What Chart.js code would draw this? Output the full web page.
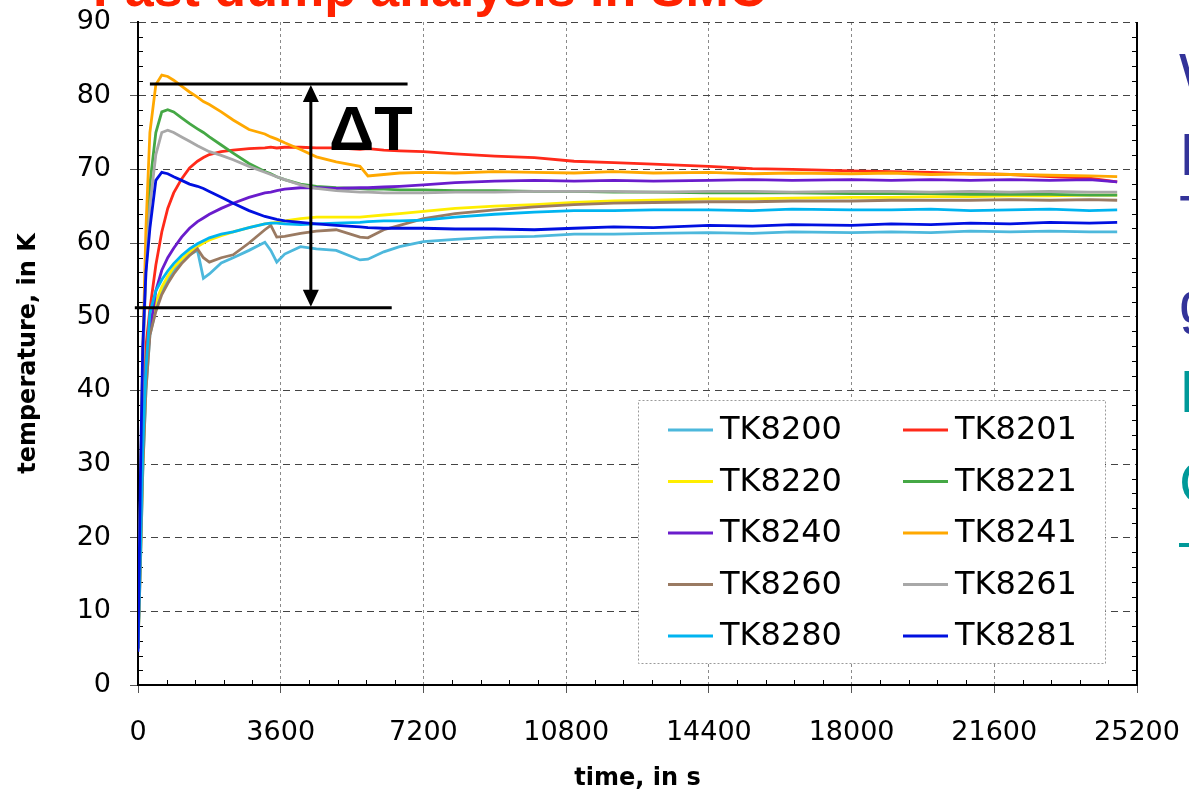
<!DOCTYPE html>
<html>
<head>
<meta charset="utf-8">
<script src="https://cdn.jsdelivr.net/npm/chart.js@4.4.1/dist/chart.umd.min.js"></script>
<style>
  html, body { margin: 0; padding: 0; background: #fff; overflow: hidden; }
  #wrap { position: relative; width: 1189px; height: 795px; overflow: hidden; }
  #myChart { position: absolute; left: 0; top: 0; }
  #slideTitle { position: absolute; left: 93px; top: -42px; line-height: 52px; font: bold 52px "Liberation Sans", Arial, sans-serif; color: #ff2200; white-space: nowrap; }
  .side { position: absolute; left: 1179px; line-height: 60px; font: 60px "Liberation Sans", Arial, sans-serif; white-space: nowrap; }
  .blue { color: #333399; }
  .teal { color: #009999; }
</style>
</head>
<body>
<div id="wrap">
  <canvas id="myChart" width="1189" height="795"></canvas>
  <div id="slideTitle">Fast dump analysis in SMC</div>
  <div class="side blue" style="top:40px">W</div>
  <div class="side blue" style="top:120px">I</div>
  <div class="side blue" style="top:182px">T</div>
  <div class="side blue" style="top:268px">g</div>
  <div class="side teal" style="top:357px">I</div>
  <div class="side teal" style="top:448px">C</div>
  <div class="side teal" style="top:505px">–</div>
</div>
<script>
  // sample times, in s
  const times = [0, 60, 120, 200, 300, 450, 600, 750, 900, 1100, 1300, 1500, 1650, 1800, 2100, 2400, 2800, 3200, 3350, 3500, 3700, 4100, 4500, 5000, 5600, 5800, 6200, 6600, 7200, 8000, 9000, 10000, 11000, 12000, 13000, 14400, 15500, 16500, 18000, 19000, 20000, 21000, 22000, 23000, 24000, 24700];

  // temperatures, in K
  const tk8200 = [5, 16, 29, 40, 47.5, 51, 53.5, 55, 56.3, 57.5, 58.4, 59.0, 55.2, 55.8, 57.3, 58.0, 59.0, 60.1, 59.0, 57.4, 58.5, 59.5, 59.2, 59.0, 57.7, 57.8, 58.8, 59.5, 60.2, 60.5, 60.8, 60.9, 61.2, 61.2, 61.3, 61.4, 61.3, 61.5, 61.4, 61.5, 61.4, 61.6, 61.5, 61.6, 61.5, 61.5];
  const tk8201 = [5, 22, 38, 46, 51, 57, 61.5, 64.7, 66.8, 68.7, 70.2, 71.1, 71.6, 72.0, 72.4, 72.6, 72.8, 72.9, 73.0, 72.9, 73.0, 73.0, 72.9, 72.9, 72.7, 72.8, 72.6, 72.5, 72.4, 72.1, 71.8, 71.6, 71.1, 70.9, 70.7, 70.4, 70.1, 70.0, 69.8, 69.7, 69.6, 69.4, 69.3, 69.0, 68.8, 68.3];
  const tk8220 = [5, 17, 30, 41, 48.5, 52, 54, 55.5, 56.7, 57.8, 58.8, 59.5, 60.0, 60.4, 61.0, 61.5, 62.1, 62.6, 62.7, 62.8, 63.0, 63.3, 63.5, 63.5, 63.5, 63.6, 63.8, 64.0, 64.3, 64.7, 65.0, 65.2, 65.5, 65.7, 65.8, 66.0, 66.0, 66.1, 66.2, 66.2, 66.3, 66.3, 66.4, 66.4, 66.5, 66.5];
  const tk8221 = [5, 25, 44, 58, 68, 75, 77.8, 78.1, 77.8, 77.0, 76.2, 75.5, 75.0, 74.4, 73.3, 72.2, 70.8, 69.7, 69.4, 69.0, 68.6, 68.0, 67.7, 67.5, 67.4, 67.3, 67.3, 67.2, 67.2, 67.1, 67.1, 67.0, 67.0, 66.9, 66.9, 66.8, 66.8, 66.8, 66.7, 66.7, 66.7, 66.6, 66.6, 66.6, 66.5, 66.5];
  const tk8240 = [5, 20, 34, 42, 48, 53.5, 56.3, 58.0, 59.3, 60.8, 62.0, 62.9, 63.4, 63.9, 64.7, 65.4, 66.2, 66.8, 66.9, 67.1, 67.3, 67.5, 67.5, 67.4, 67.5, 67.5, 67.6, 67.7, 67.9, 68.2, 68.4, 68.5, 68.4, 68.5, 68.4, 68.5, 68.6, 68.5, 68.6, 68.5, 68.6, 68.5, 68.6, 68.5, 68.6, 68.3];
  const tk8241 = [5, 25, 45, 62, 75, 81.5, 82.8, 82.6, 82.1, 81.3, 80.5, 79.8, 79.2, 78.8, 77.8, 76.7, 75.4, 74.8, 74.4, 74.1, 73.6, 72.7, 71.7, 71.0, 70.4, 69.1, 69.3, 69.5, 69.6, 69.5, 69.7, 69.6, 69.5, 69.7, 69.5, 69.6, 69.4, 69.5, 69.4, 69.5, 69.3, 69.4, 69.3, 69.2, 69.1, 69.0];
  const tk8260 = [5, 16, 29, 40, 47.5, 50.7, 53, 54.5, 55.8, 57.2, 58.3, 59.2, 58.0, 57.4, 58.0, 58.4, 60.0, 61.8, 62.4, 60.8, 60.9, 61.3, 61.6, 61.8, 60.8, 60.7, 61.8, 62.4, 63.3, 64.0, 64.5, 64.9, 65.2, 65.4, 65.5, 65.6, 65.6, 65.7, 65.7, 65.8, 65.8, 65.8, 65.9, 65.8, 65.9, 65.8];
  const tk8261 = [5, 25, 43, 56, 65, 72, 75, 75.3, 75.0, 74.4, 73.8, 73.2, 72.8, 72.4, 71.9, 71.3, 70.4, 69.6, 69.3, 69.0, 68.6, 67.9, 67.4, 67.1, 66.9, 66.9, 66.8, 66.8, 66.8, 66.9, 66.9, 67.0, 67.0, 67.0, 66.9, 67.0, 67.0, 66.9, 67.0, 67.0, 66.9, 67.0, 66.9, 67.0, 66.9, 66.9];
  const tk8280 = [5, 18, 32, 43, 50.5, 53.5, 55, 56.2, 57.2, 58.3, 59.2, 59.9, 60.3, 60.7, 61.2, 61.5, 62.1, 62.6, 62.7, 62.7, 62.6, 62.5, 62.6, 62.7, 62.8, 62.9, 63.0, 63.0, 63.1, 63.5, 63.9, 64.2, 64.4, 64.4, 64.5, 64.5, 64.4, 64.6, 64.5, 64.5, 64.6, 64.4, 64.5, 64.6, 64.4, 64.5];
  const tk8281 = [4.5, 28, 46, 56, 62, 68.5, 69.6, 69.4, 69.0, 68.5, 68.0, 67.7, 67.4, 67.0, 66.2, 65.4, 64.4, 63.6, 63.4, 63.2, 63.0, 62.8, 62.6, 62.4, 62.2, 62.1, 62.0, 62.0, 62.0, 61.9, 61.9, 61.8, 62.0, 62.2, 62.1, 62.4, 62.3, 62.5, 62.4, 62.6, 62.5, 62.7, 62.6, 62.8, 62.7, 62.8];

  const seriesNames = ["TK8200", "TK8201", "TK8220", "TK8221", "TK8240", "TK8241", "TK8260", "TK8261", "TK8280", "TK8281"];
  const seriesValues = [tk8200, tk8201, tk8220, tk8221, tk8240, tk8241, tk8260, tk8261, tk8280, tk8281];
  const seriesColors = ["#4db8dc", "#ff2a1a", "#ffee00", "#45a845", "#6a1ccc", "#ffa800", "#9a7a62", "#a8a8a8", "#00b4f0", "#0010e0"];

  // axis ticks
  const xTicks = [0, 3600, 7200, 10800, 14400, 18000, 21600, 25200];
  const yTicks = [0, 10, 20, 30, 40, 50, 60, 70, 80, 90];

  // delta-T marker (data units)
  const dtHigh = 81.6, dtLow = 51.2;
  const dtHighSpan = [300, 6800];
  const dtLowSpan = [-80, 6400];
  const dtArrowAt = 4360;
  const dtLabelAt = 4820, dtLabelBase = 72.6;

  const datasets = seriesNames.map((name, i) => ({
    label: name,
    data: times.map((t, j) => ({ x: t, y: seriesValues[i][j] })),
    borderColor: seriesColors[i],
    backgroundColor: seriesColors[i],
    borderWidth: 2.8,
    pointRadius: 0,
    fill: false,
    tension: 0,
    order: seriesNames.length - i
  }));

  // minor ticks + right frame
  const framePlugin = {
    id: "frame",
    beforeDatasetsDraw(chart) {
      const { ctx, chartArea: a, scales: { x, y } } = chart;
      ctx.save();
      ctx.strokeStyle = "#000";
      ctx.lineWidth = 1;
      ctx.beginPath();
      for (let v = 2; v < 90; v += 2) {
        if (v % 10 === 0) continue;
        const py = Math.round(y.getPixelForValue(v)) + 0.5;
        ctx.moveTo(a.left, py); ctx.lineTo(a.left + 5, py);
        ctx.moveTo(a.right - 5, py); ctx.lineTo(a.right, py);
      }
      for (let t = 720; t < 25200; t += 720) {
        if (t % 3600 === 0) continue;
        const px = Math.round(x.getPixelForValue(t)) + 0.5;
        ctx.moveTo(px, a.bottom); ctx.lineTo(px, a.bottom - 5);
      }
      ctx.stroke();
      ctx.lineWidth = 2;
      ctx.beginPath();
      ctx.moveTo(a.right, a.top); ctx.lineTo(a.right, a.bottom + 1);
      ctx.stroke();
      ctx.restore();
    }
  };

  // delta-T annotation and boxed legend on top of the data
  const overlayPlugin = {
    id: "overlay",
    afterDatasetsDraw(chart) {
      const { ctx, chartArea: a, scales: { x, y } } = chart;
      ctx.save();
      // delta T
      ctx.strokeStyle = "#000";
      ctx.fillStyle = "#000";
      ctx.lineWidth = 3;
      const yh = y.getPixelForValue(dtHigh), yl = y.getPixelForValue(dtLow);
      ctx.beginPath();
      ctx.moveTo(x.getPixelForValue(dtHighSpan[0]), yh); ctx.lineTo(x.getPixelForValue(dtHighSpan[1]), yh);
      ctx.moveTo(x.getPixelForValue(dtLowSpan[0]), yl); ctx.lineTo(x.getPixelForValue(dtLowSpan[1]), yl);
      const xa = x.getPixelForValue(dtArrowAt);
      ctx.moveTo(xa, yh + 12); ctx.lineTo(xa, yl - 12);
      ctx.stroke();
      ctx.beginPath();
      ctx.moveTo(xa, yh + 1); ctx.lineTo(xa - 8, yh + 18); ctx.lineTo(xa + 8, yh + 18); ctx.closePath();
      ctx.moveTo(xa, yl - 1); ctx.lineTo(xa - 8, yl - 18); ctx.lineTo(xa + 8, yl - 18); ctx.closePath();
      ctx.fill();
      ctx.font = "bold 63px 'Liberation Sans', Arial, sans-serif";
      ctx.textBaseline = "alphabetic";
      ctx.textAlign = "left";
      ctx.fillText("\u0394T", x.getPixelForValue(dtLabelAt), y.getPixelForValue(dtLabelBase));

      // legend box
      const bx = a.left + 500, by = a.top + 378, bw = 467, bh = 263;
      ctx.fillStyle = "#fff";
      ctx.fillRect(bx, by, bw, bh);
      ctx.strokeStyle = "#9a9a9a";
      ctx.lineWidth = 1;
      ctx.setLineDash([2, 2]);
      ctx.strokeRect(bx + 0.5, by + 0.5, bw, bh);
      ctx.setLineDash([]);
      ctx.font = "32px 'DejaVu Sans', Verdana, sans-serif";
      ctx.textBaseline = "middle";
      chart.data.datasets.forEach((ds, i) => {
        const col = i % 2, row = Math.floor(i / 2);
        const ox = bx + 30 + col * 235;
        const oy = by + 30 + row * 51.5;
        ctx.strokeStyle = ds.borderColor;
        ctx.lineWidth = 3;
        ctx.beginPath();
        ctx.moveTo(ox, oy); ctx.lineTo(ox + 45, oy);
        ctx.stroke();
        ctx.fillStyle = "#000";
        ctx.fillText(ds.label, ox + 52, oy + 1);
      });
      ctx.restore();
    }
  };

  new Chart("myChart", {
    type: "line",
    data: { datasets: datasets },
    options: {
      responsive: false,
      animation: false,
      layout: { padding: { left: 0, top: 22, right: 52, bottom: 0 } },
      plugins: { legend: { display: false }, tooltip: { enabled: false } },
      scales: {
        x: {
          type: "linear",
          min: 0,
          max: 25200,
          afterBuildTicks: (s) => { s.ticks = xTicks.map(v => ({ value: v })); },
          afterFit: (s) => { s.height = 110; s.paddingLeft = 0; s.paddingRight = 0; },
          ticks: { color: "#000", font: { family: "DejaVu Sans", size: 27 }, padding: 24, maxRotation: 0, autoSkip: false, callback: (v) => String(v) },
          grid: { color: "#8a8a8a", lineWidth: 1, tickLength: 8, tickColor: "#555" },
          border: { display: true, color: "#000", width: 2, dash: [3, 3] },
          title: { display: true, text: "time, in s", color: "#000", font: { family: "DejaVu Sans", size: 24, weight: "bold" }, padding: { top: 0, bottom: 2 } }
        },
        y: {
          min: 0,
          max: 90,
          afterBuildTicks: (s) => { s.ticks = yTicks.map(v => ({ value: v })); },
          afterFit: (s) => { s.width = 138; s.paddingTop = 0; s.paddingBottom = 0; },
          ticks: { color: "#000", font: { family: "DejaVu Sans", size: 27 }, padding: 19, callback: (v) => String(v) },
          grid: { color: "#444", lineWidth: 1, tickLength: 8, tickColor: "#555" },
          border: { display: true, color: "#000", width: 2, dash: [7, 5] },
          title: { display: true, text: "temperature, in K", color: "#000", font: { family: "DejaVu Sans", size: 24, weight: "bold" }, padding: { top: 14, bottom: 0 } }
        }
      }
    },
    plugins: [framePlugin, overlayPlugin]
  });
</script>
</body>
</html>
